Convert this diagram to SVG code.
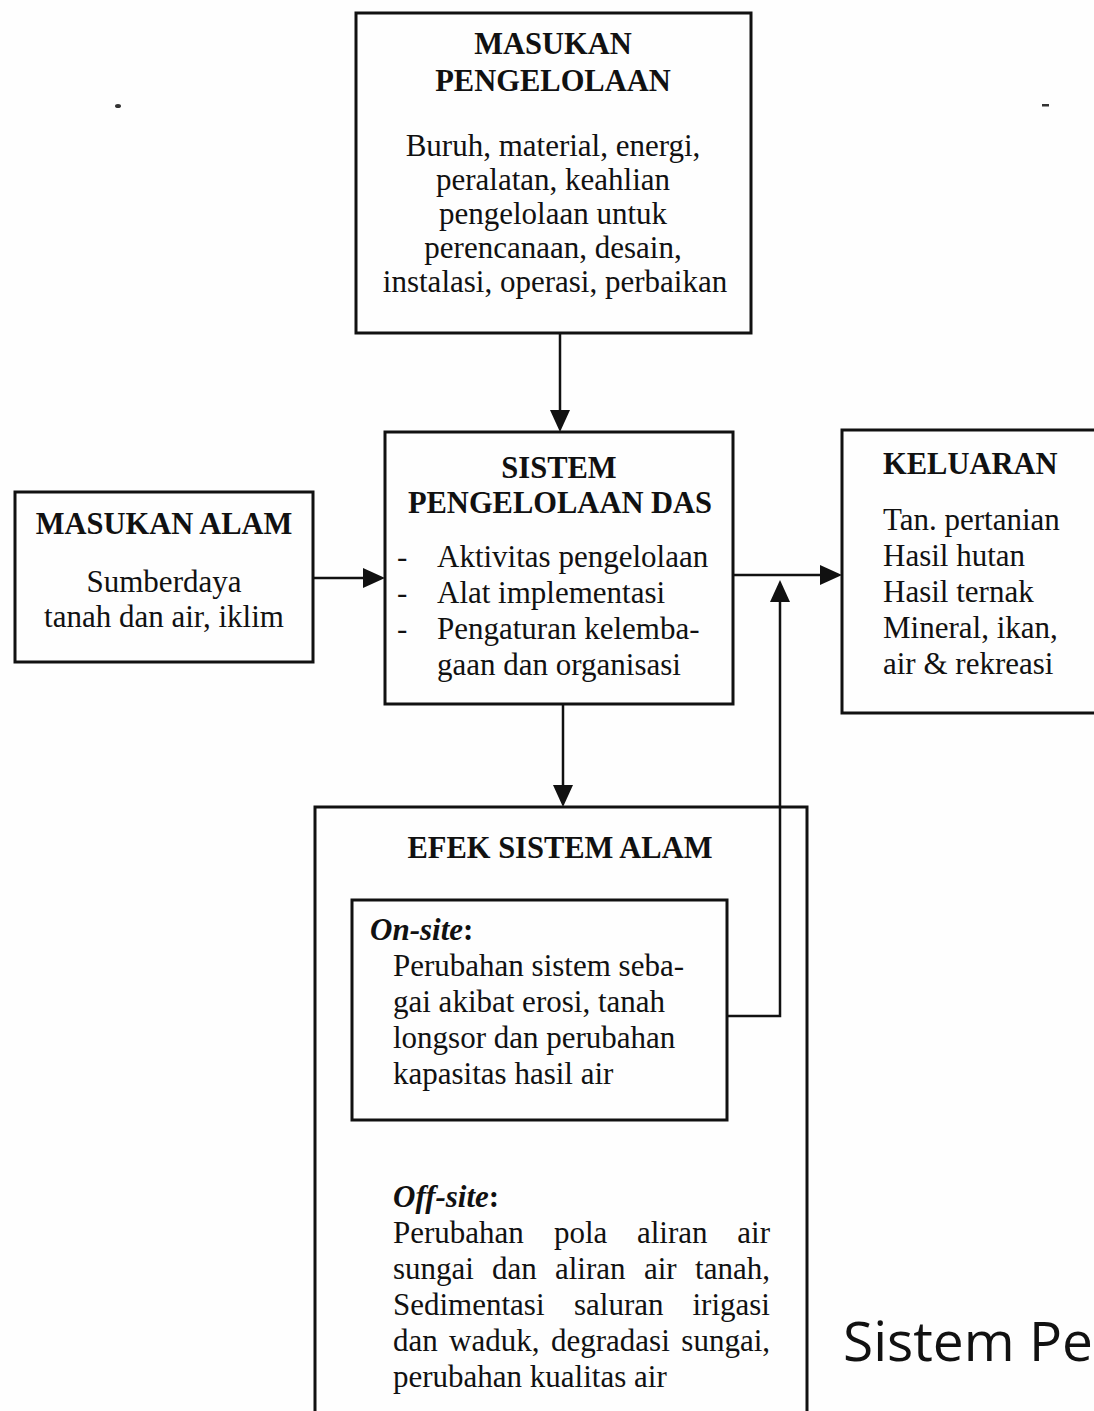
<svg xmlns="http://www.w3.org/2000/svg" width="1094" height="1411" viewBox="0 0 1094 1411">
<style>
.box{fill:none;stroke:#111;stroke-width:3}
.con{fill:none;stroke:#111;stroke-width:2.5}
.h{font-family:"Liberation Serif","Times New Roman",serif;font-weight:bold;font-size:30.5px;fill:#111}
.t{font-family:"Liberation Serif","Times New Roman",serif;font-size:31px;fill:#111}
.bi{font-family:"Liberation Serif","Times New Roman",serif;font-size:31px;font-weight:bold;font-style:italic;fill:#111}
.c{text-anchor:middle}
.e{text-anchor:end}
.cap{font-family:"Open Sans","Noto Sans",sans-serif;font-size:55px;fill:#111}
</style>
<defs>
<marker id="ah" markerUnits="userSpaceOnUse" markerWidth="24" markerHeight="22" refX="12" refY="10" orient="auto">
<path d="M0,0 L22,10 L0,20 Z" fill="#111"/>
</marker>
</defs>
<rect x="0" y="0" width="1094" height="1411" fill="#fefefe"/>
<ellipse cx="118" cy="106" rx="3" ry="2" fill="#333"/>
<rect x="1042" y="104" width="7" height="2.5" fill="#333"/>

<g id="masukan-pengelolaan">
<rect class="box" x="356" y="13" width="395" height="320"/>
<text class="h c" x="553" y="54">MASUKAN</text>
<text class="h c" x="553" y="91">PENGELOLAAN</text>
<text class="t c" x="553" y="156">Buruh, material, energi,</text>
<text class="t c" x="553" y="190">peralatan, keahlian</text>
<text class="t c" x="553" y="224">pengelolaan untuk</text>
<text class="t c" x="553" y="258">perencanaan, desain,</text>
<text class="t c" x="555" y="292">instalasi, operasi, perbaikan</text>
</g>

<g id="masukan-alam">
<rect class="box" x="15" y="492" width="298" height="170"/>
<text class="h c" x="164" y="534">MASUKAN ALAM</text>
<text class="t c" x="164" y="592">Sumberdaya</text>
<text class="t c" x="164" y="627">tanah dan air, iklim</text>
</g>

<g id="sistem-pengelolaan-das">
<rect class="box" x="385" y="432" width="348" height="272"/>
<text class="h c" x="559" y="478">SISTEM</text>
<text class="h c" x="560" y="513">PENGELOLAAN DAS</text>
<text class="t" x="397" y="567">-</text>
<text class="t" x="437" y="567">Aktivitas pengelolaan</text>
<text class="t" x="397" y="603">-</text>
<text class="t" x="437" y="603">Alat implementasi</text>
<text class="t" x="397" y="639">-</text>
<text class="t" x="437" y="639">Pengaturan kelemba-</text>
<text class="t" x="437" y="675">gaan dan organisasi</text>
</g>

<g id="keluaran">
<path class="box" d="M1100,430 H842 V713 H1100"/>
<text class="h" x="883" y="474">KELUARAN</text>
<text class="t" x="883" y="530">Tan. pertanian</text>
<text class="t" x="883" y="566">Hasil hutan</text>
<text class="t" x="883" y="602">Hasil ternak</text>
<text class="t" x="883" y="638">Mineral, ikan,</text>
<text class="t" x="883" y="674">air &amp; rekreasi</text>
</g>

<g id="efek-sistem-alam">
<path class="box" d="M315,1415 V807 H807 V1415"/>
<text class="h c" x="560" y="858">EFEK SISTEM ALAM</text>
<g id="on-site">
<rect class="box" x="352" y="900" width="375" height="220"/>
<text class="bi" x="370" y="940">On-site<tspan font-style="normal">:</tspan></text>
<text class="t" x="393" y="976">Perubahan sistem seba-</text>
<text class="t" x="393" y="1012">gai akibat erosi, tanah</text>
<text class="t" x="393" y="1048">longsor dan perubahan</text>
<text class="t" x="393" y="1084">kapasitas hasil air</text>
</g>
<g id="off-site">
<text class="bi" x="393" y="1207">Off-site<tspan font-style="normal">:</tspan></text>
<text class="t" y="1243"><tspan x="393">Perubahan</tspan><tspan x="554">pola</tspan><tspan x="637">aliran</tspan><tspan x="770" text-anchor="end">air</tspan></text>
<text class="t" y="1279"><tspan x="393">sungai</tspan><tspan x="492">dan</tspan><tspan x="555">aliran</tspan><tspan x="644">air</tspan><tspan x="770" text-anchor="end">tanah,</tspan></text>
<text class="t" y="1315"><tspan x="393">Sedimentasi</tspan><tspan x="574">saluran</tspan><tspan x="770" text-anchor="end">irigasi</tspan></text>
<text class="t" y="1351"><tspan x="393">dan</tspan><tspan x="449">waduk,</tspan><tspan x="551">degradasi</tspan><tspan x="770" text-anchor="end">sungai,</tspan></text>
<text class="t" x="393" y="1387">perubahan kualitas air</text>
</g>
</g>

<g id="connectors">
<path class="con" d="M560,333 V422" marker-end="url(#ah)"/>
<path class="con" d="M313,578 H375" marker-end="url(#ah)"/>
<path class="con" d="M733,575 H832" marker-end="url(#ah)"/>
<path class="con" d="M563,704 V797" marker-end="url(#ah)"/>
<path class="con" d="M727,1016 H780 V590" marker-end="url(#ah)"/>
</g>

<text class="cap" x="843" y="1361">Sistem Pe</text>
</svg>
